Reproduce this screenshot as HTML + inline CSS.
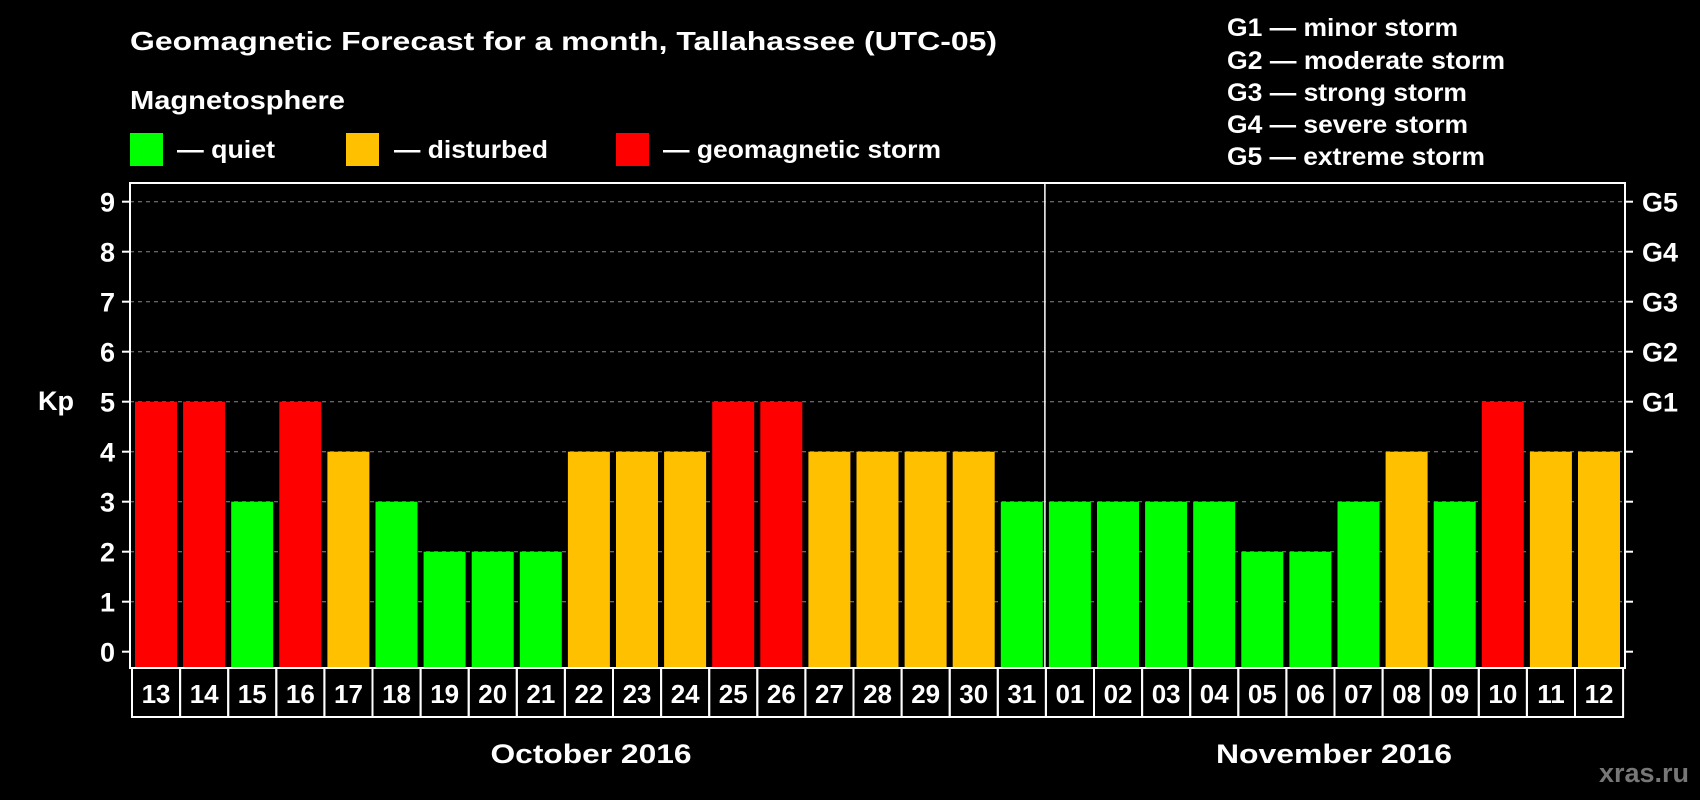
<!DOCTYPE html>
<html><head><meta charset="utf-8"><style>
html,body{margin:0;padding:0;background:#000;width:1700px;height:800px;overflow:hidden}
svg{display:block;font-family:"Liberation Sans",Arial,sans-serif;font-weight:bold}
</style></head><body>
<svg id="chart" width="1700" height="800">
<text x="130" y="50" fill="#fff" font-size="26" textLength="867" lengthAdjust="spacingAndGlyphs">Geomagnetic Forecast for a month, Tallahassee (UTC-05)</text>
<text x="130" y="109" fill="#fff" font-size="26" textLength="215" lengthAdjust="spacingAndGlyphs">Magnetosphere</text>
<rect x="130" y="133" width="33" height="33" fill="#00ff00"/>
<text x="177" y="158" fill="#fff" font-size="25" textLength="98" lengthAdjust="spacingAndGlyphs">— quiet</text>
<rect x="346" y="133" width="33" height="33" fill="#ffc000"/>
<text x="394" y="158" fill="#fff" font-size="25" textLength="154" lengthAdjust="spacingAndGlyphs">— disturbed</text>
<rect x="616" y="133" width="33" height="33" fill="#ff0000"/>
<text x="663" y="158" fill="#fff" font-size="25" textLength="278" lengthAdjust="spacingAndGlyphs">— geomagnetic storm</text>
<g font-size="25" fill="#fff">
<text x="1227" y="36" textLength="231" lengthAdjust="spacingAndGlyphs">G1 — minor storm</text>
<text x="1227" y="69" textLength="278" lengthAdjust="spacingAndGlyphs">G2 — moderate storm</text>
<text x="1227" y="101" textLength="240" lengthAdjust="spacingAndGlyphs">G3 — strong storm</text>
<text x="1227" y="133" textLength="241" lengthAdjust="spacingAndGlyphs">G4 — severe storm</text>
<text x="1227" y="165" textLength="258" lengthAdjust="spacingAndGlyphs">G5 — extreme storm</text>
</g>
<text x="56" y="410" fill="#fff" font-size="27" text-anchor="middle">Kp</text>
<text x="591" y="763" fill="#fff" font-size="27" text-anchor="middle" textLength="201" lengthAdjust="spacingAndGlyphs">October 2016</text>
<text x="1334" y="763" fill="#fff" font-size="27" text-anchor="middle" textLength="236" lengthAdjust="spacingAndGlyphs">November 2016</text>
<text x="1689" y="782" fill="#777" font-size="27" text-anchor="end">xras.ru</text>
<g id="plot"></g>
</svg>
<script>
const days = ["13","14","15","16","17","18","19","20","21","22","23","24","25","26","27","28","29","30","31","01","02","03","04","05","06","07","08","09","10","11","12"];
const kpValues = [5,5,3,5,4,3,2,2,2,4,4,4,5,5,4,4,4,4,3,3,3,3,3,2,2,3,4,3,5,4,4];
const yTicks = [0,1,2,3,4,5,6,7,8,9];
const gLabels = ["G1","G2","G3","G4","G5"];
const gLevels = [5,6,7,8,9];

const NS="http://www.w3.org/2000/svg";
const g=document.getElementById('plot');
const L=130,R=1625,T=183,B=668,cell0=132,pitch=48.1;
const y=v=>651.7-v*50;
const x=i=>cell0+i*pitch;
function mk(t,a){const e=document.createElementNS(NS,t);for(const k in a)e.setAttribute(k,a[k]);g.appendChild(e);return e;}
yTicks.forEach(v=>{
  if(v>0){const l=mk('line',{x1:L,x2:R,y1:y(v),y2:y(v),stroke:'#888','stroke-width':1,'stroke-dasharray':'4,4'});
  
  }
  const t1=mk('line',{x1:L-8,x2:L,y1:y(v),y2:y(v),stroke:'#fff','stroke-width':2});
  
  
  const t2=mk('line',{x1:R,x2:R+8,y1:y(v),y2:y(v),stroke:'#fff','stroke-width':2});
  
  
  const tx=mk('text',{x:115,y:y(v)+10,fill:'#fff','font-size':27,'text-anchor':'end'});tx.textContent=v;
  
  
});
gLabels.forEach((s,i)=>{
  const t=mk('text',{x:1642,y:y(gLevels[i])+10,fill:'#fff','font-size':27});t.textContent=s;
  
  
});
const col=v=>v>=5?'#ff0000':(v==4?'#ffc000':'#00ff00');
kpValues.forEach((v,i)=>{
  const b=mk('rect',{x:x(i)+3,y:y(v),width:42,height:B-y(v),fill:col(v)});
  
  
  const c=mk('rect',{x:x(i),y:B,width:pitch,height:49,fill:'none',stroke:'#fff','stroke-width':2});
  
  
  const t=mk('text',{x:x(i)+pitch/2,y:B+35,fill:'#fff','font-size':26,'text-anchor':'middle'});t.textContent=days[i];
  
  
});
const f=mk('rect',{x:L,y:T,width:R-L,height:B-T,fill:'none',stroke:'#fff','stroke-width':2});


const di=days.indexOf("01");
const d=mk('line',{x1:x(di)-1,x2:x(di)-1,y1:T,y2:B,stroke:'#fff','stroke-width':1.5});


</script>
</body></html>
